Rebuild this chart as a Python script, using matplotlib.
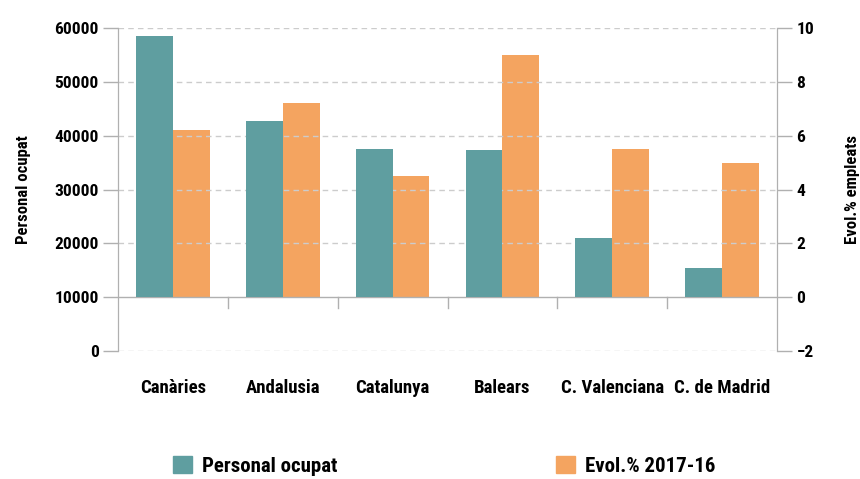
import matplotlib
matplotlib.use("Agg")
import matplotlib.pyplot as plt
from matplotlib import font_manager
from matplotlib.patches import Patch

# Data
regions = ['Canàries', 'Andalusia', 'Catalunya', 'Balears', 'C. Valenciana', 'C. de Madrid']
personal = [58500, 42700, 37500, 37300, 21000, 15500]
evol = [6.2, 7.2, 4.5, 9.0, 5.5, 5.0]

teal = '#5F9EA0'
orange = '#F4A460'

# pick a condensed bold family if one is installed
names = {f.name for f in font_manager.fontManager.ttflist}
fam = 'Roboto'
for cand in ['Liberation Sans Narrow', 'DejaVu Sans Condensed', 'Roboto Condensed',
             'Open Sans Condensed', 'Roboto']:
    if cand in names:
        fam = cand
        break
plt.rcParams['font.family'] = [fam, 'DejaVu Sans']
plt.rcParams['font.weight'] = 'bold'

fig = plt.figure(figsize=(8.6, 4.79), dpi=100)
ax = fig.add_axes([118/860, 1-351/479, (777-118)/860, (351-28)/479])
ax2 = ax.twinx()

x = list(range(len(regions)))
w = 0.335
base = 10000  # teal bars start at the right axis zero line
ax.bar([i - w/2 for i in x], [p - base for p in personal], width=w, bottom=base,
       color=teal, zorder=3)
ax2.bar([i + w/2 for i in x], evol, width=w, color=orange, zorder=3)

ax.set_xlim(-0.5, len(regions) - 0.5)
ax.set_ylim(0, 60000)
ax2.set_ylim(-2, 10)
ax.set_yticks(range(0, 60001, 10000))
ax2.set_yticks(range(-2, 11, 2))

# grid
for v in range(0, 60001, 10000):
    if v == base:
        ax.axhline(v, color='#b0b0b0', lw=1, zorder=1)
    else:
        ax.axhline(v, color='#cccccc', lw=1, ls=(0, (4, 3)), zorder=1)

for a in (ax, ax2):
    a.spines['top'].set_visible(False)
    a.spines['bottom'].set_visible(False)
    a.spines['left'].set_color('#b0b0b0')
    a.spines['right'].set_color('#b0b0b0')
    a.tick_params(axis='y', colors='#b0b0b0', length=11, width=1, labelcolor='black',
                  labelsize=12.5, pad=3)
ax.set_zorder(ax2.get_zorder() + 1)
ax.patch.set_visible(False)

# category ticks hanging from the zero line
ax.set_xticks([])
for i in x[:-1]:
    ax.plot([i + 0.5, i + 0.5], [base, base - 2000], color='#b0b0b0', lw=1, zorder=2)
for i, r in enumerate(regions):
    ax.text(i, -6900, r, ha='center', va='center', fontsize=13.5, fontweight='bold')

ax.set_ylabel('Personal ocupat', fontsize=12, fontweight='bold', labelpad=17)
ax2.set_ylabel('Evol.% empleats', fontsize=12, fontweight='bold', labelpad=22)

# legend, two separate entries as in the reference
kw = dict(loc='center left', frameon=False, fontsize=15, handlelength=0.9,
          handleheight=0.9, handletextpad=0.5, borderpad=0, borderaxespad=0)
fig.legend(handles=[Patch(color=teal)], labels=['Personal ocupat'],
           bbox_to_anchor=(173/860, 1-466/479), **kw)
fig.legend(handles=[Patch(color=orange)], labels=['Evol.% 2017-16'],
           bbox_to_anchor=(556/860, 1-466/479), **kw)

fig.savefig('out.png', dpi=100)
